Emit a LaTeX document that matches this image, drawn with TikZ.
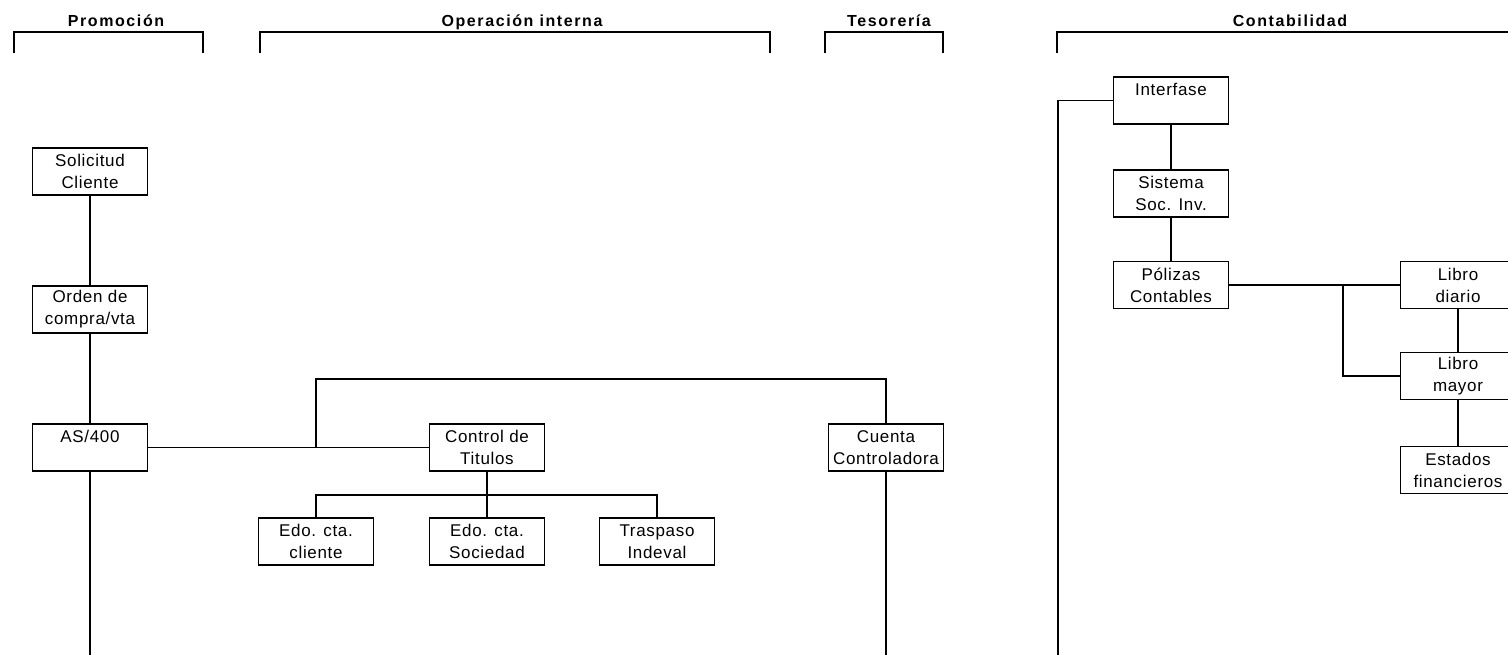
\documentclass[tikz,border=0pt]{standalone}
\usepackage{fontspec}
\setmainfont{Liberation Sans}
\newfontfamily\boxfont[LetterSpace=4]{Liberation Sans}
\newfontfamily\headfont[LetterSpace=10]{Liberation Sans}
\usepackage{tikz}

\tikzset{
  box/.style={draw, line width=1.3pt, minimum width=115pt, minimum height=47pt,
              inner sep=2pt, align=center, font=\boxfont\fontsize{17}{22}\selectfont},
  head/.style={anchor=base, font=\headfont\bfseries\fontsize{16}{19}\selectfont},
  bracket/.style={line width=1.3pt},
  link/.style={line width=1.2pt},
}

\begin{document}
\begin{tikzpicture}[x=1pt, y=-1pt]
      % Page, cut at the right edge like the scan
      \useasboundingbox (0,0) rectangle (1508,655);
      \clip             (0,0) rectangle (1508,655);

      % Area headers
      \node[head] (promocion)    at (116, 27) {Promoción};
      \node[head] (operacion)    at (522, 27) {Operación interna};
      \node[head] (tesoreria)    at (889, 27) {Tesorería};
      \node[head] (contabilidad) at (1290,27) {Contabilidad};
      \draw[bracket] (14,  53) |- (203, 32) -- (203, 53);   % Promocion
      \draw[bracket] (260, 53) |- (770, 32) -- (770, 53);   % Operacion interna
      \draw[bracket] (825, 53) |- (943, 32) -- (943, 53);   % Tesoreria
      \draw[bracket] (1057,53) |- (1530,32);                % Contabilidad

      % Promocion
      \node[box] (solicitud) at (90, 171.5) {Solicitud\\Cliente};
      \node[box] (orden)     at (90, 309.5) {Orden de\\compra/vta};
      \node[box] (as400)     at (90, 447.5) {AS/400\\~};
      \coordinate (promofin) at (90, 655);

      % Operacion interna
      \node[box] (control)  at (487, 447.5) {Control de\\Titulos};
      \node[box] (cliente)  at (316, 541.5) {Edo. cta.\\cliente};
      \node[box] (sociedad) at (487, 541.5) {Edo. cta.\\Sociedad};
      \node[box] (traspaso) at (657, 541.5) {Traspaso\\Indeval};
      \coordinate (enlace) at (cliente |- as400);
      \coordinate (puente) at (316, 379);
      \coordinate (rama)   at (487, 495);

      % Tesoreria
      \node[box] (cuenta) at (886, 447.5) {Cuenta\\Controladora};
      \coordinate (tesofin) at (886, 655);

      % Contabilidad
      \node[box] (interfase) at (1171, 100.5) {Interfase\\~};
      \node[box] (sistema)   at (1171, 193.5) {Sistema\\Soc. Inv.};
      \node[box] (polizas)   at (1171, 285)   {Pólizas\\Contables};
      \node[box] (diario)    at (1458, 285)   {Libro\\diario};
      \node[box] (mayor)     at (1458, 376)   {Libro\\mayor};
      \node[box] (estados)   at (1458, 470)   {Estados\\financieros};
      \coordinate (contafin) at (1058, 655);
      \coordinate (corte)    at (1343, 285);

      % Connectors
      \draw[link] (solicitud) -- (orden);
      \draw[link] (orden)     -- (as400);
      \draw[link] (as400)     -- (promofin);
      \draw[link] (as400)     -- (control);
      \draw[link] (enlace)    -- (puente) -| (cuenta);
      \draw[link] (cuenta)    -- (tesofin);
      \draw[link] (control)   -- (sociedad);
      \draw[link] (cliente)   |- (rama) -| (traspaso);
      \draw[link] (interfase) -| (contafin);
      \draw[link] (interfase) -- (sistema);
      \draw[link] (sistema)   -- (polizas);
      \draw[link] (polizas)   -- (diario);
      \draw[link] (corte)     |- (mayor);
      \draw[link] (diario)    -- (mayor);
      \draw[link] (mayor)     -- (estados);
  \end{tikzpicture}
\end{document}
